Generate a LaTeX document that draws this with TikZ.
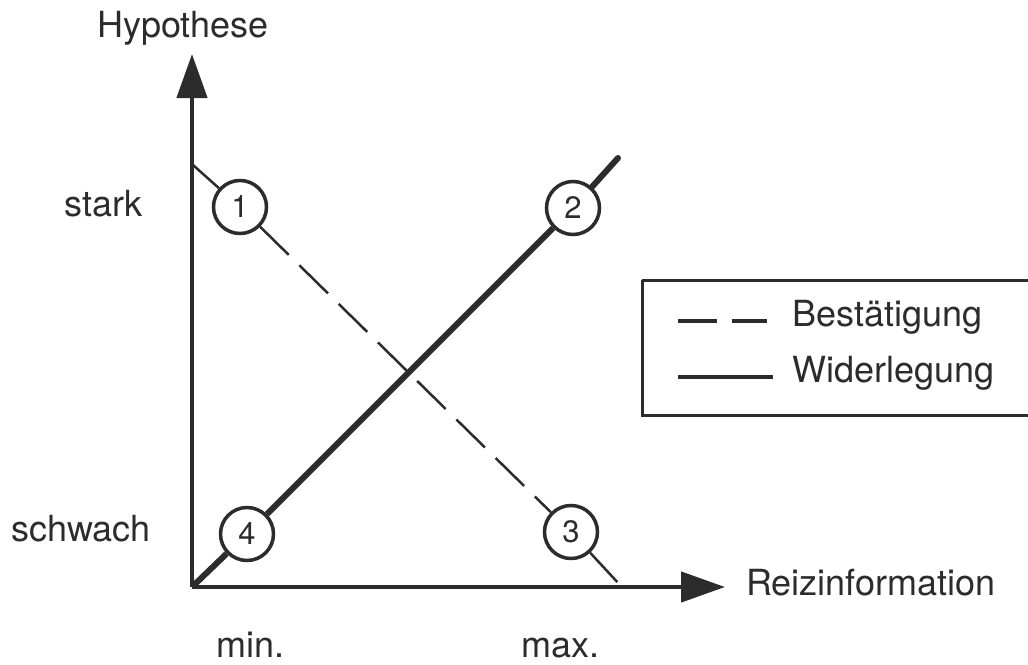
\documentclass[tikz,border=0pt]{standalone}
\usepackage{fontspec}
\setmainfont{TeX Gyre Heros}
\usetikzlibrary{arrows.meta}
\definecolor{ink}{HTML}{2c2c2c}
\tikzset{
  lbl/.style={anchor=base west, inner sep=0pt, text=ink, font=\fontsize{36}{40}\selectfont},
  num/.style={circle, draw=ink, line width=3.5pt, fill=white, minimum size=53pt, inner sep=0pt, text=ink, font=\fontsize{31}{34}\selectfont},
  axis/.style={draw=ink, line width=4.5pt, -{Triangle[length=44pt,width=30pt]}},
  refute/.style={draw=ink, line width=6pt},
  confirm/.style={draw=ink, line width=2.5pt, dash pattern=on 40pt off 15pt},
  legendbox/.style={draw=ink, line width=3pt}
}
\begin{document}
\begin{tikzpicture}[x=1pt,y=-1pt]
\useasboundingbox (0,0) rectangle (1028,664);
% coordinates
\coordinate (o) at (192,587);
\coordinate (ytip) at (192,54);
\coordinate (xtip) at (725,587);
\coordinate (d0) at (193,165);
\coordinate (d1) at (620,585);
\coordinate (s1) at (618,158);
% circles
\node[num] (c1) at (240,207) {1};
\node[num] (c2) at (573,208) {2};
\node[num] (c3) at (571,532) {3};
\node[num] (c4) at (247,534) {4};
% lines
\draw[confirm] (d0) -- (c1);
\draw[confirm] (c1) -- (c3);
\draw[confirm] (c3) -- (d1);
\draw[refute] (o) -- (c4);
\draw[refute] (c4) -- (c2);
\draw[refute, line cap=round] (c2) -- (s1);
% axes
\draw[axis] (o) -- (ytip);
\draw[axis] (o) -- (xtip);
% labels
\node[lbl] (hyp) at (97,37) {Hypothese};
\node[lbl] (stark) at (64,216) {stark};
\node[lbl] (schwach) at (11,541) {schwach};
\node[lbl] (reiz) at (746,595) {Reizinformation};
\node[lbl] (min) at (216,657) {min.};
\node[lbl] (max) at (521,657) {max.};
% legend
\draw[legendbox] (642,280) -- (1040,280) (642,280) -- (642,415) -- (1040,415);
\coordinate (la0) at (678,321);
\coordinate (la1) at (767,321);
\coordinate (lb0) at (678,377);
\coordinate (lb1) at (773,377);
\draw[draw=ink, line width=3.5pt, dash pattern=on 39pt off 15pt] (la0) -- (la1);
\draw[draw=ink, line width=3.5pt] (lb0) -- (lb1);
\node[lbl] (best) at (792,326) {Bestätigung};
\node[lbl] (wid) at (792,382) {Widerlegung};
\end{tikzpicture}
\end{document}
